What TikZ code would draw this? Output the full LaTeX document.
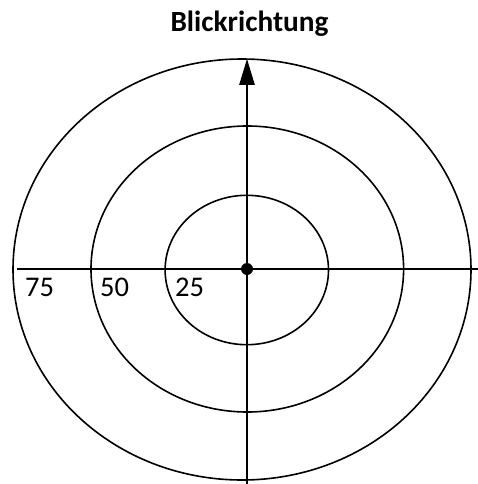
\documentclass[tikz,border=0pt]{standalone}
\usepackage{fontspec}
\setmainfont{Carlito}
\usetikzlibrary{arrows.meta}
\begin{document}
\begin{tikzpicture}[x=1pt,y=-1pt,
  ring/.style={line width=1.6pt},
  axis/.style={line width=1.4pt},
  lbl/.style={anchor=base west,inner sep=0pt,font=\fontsize{28.5}{31}\selectfont}]
\useasboundingbox (0,0) rectangle (478,484);
\coordinate (c) at (247,269);
\coordinate (top) at (247,59);
\coordinate (bot) at (247,486);
\coordinate (left) at (17,269);
\coordinate (right) at (480,269);
\node[anchor=base,inner sep=0pt,font=\bfseries\fontsize{29.3}{32}\selectfont] (title) at (249.5,31.5) {Blickrichtung};
\draw[ring] (242,269.5) ellipse [x radius=229, y radius=210.5];
\draw[ring] (247.3,269) ellipse [x radius=156.3, y radius=143];
\draw[ring] (246.8,270) ellipse [x radius=81.7, y radius=74.7];
\draw[axis] (left) -- (right);
\draw[line width=1.2pt,-{Triangle[width=15.5pt,length=26pt]}] (bot) -- (top);
\fill (c) circle (6);
\node[lbl] (l75) at (25,296) {75};
\node[lbl] (l50) at (100,296) {50};
\node[lbl] (l25) at (175,296) {25};
\end{tikzpicture}
\end{document}
